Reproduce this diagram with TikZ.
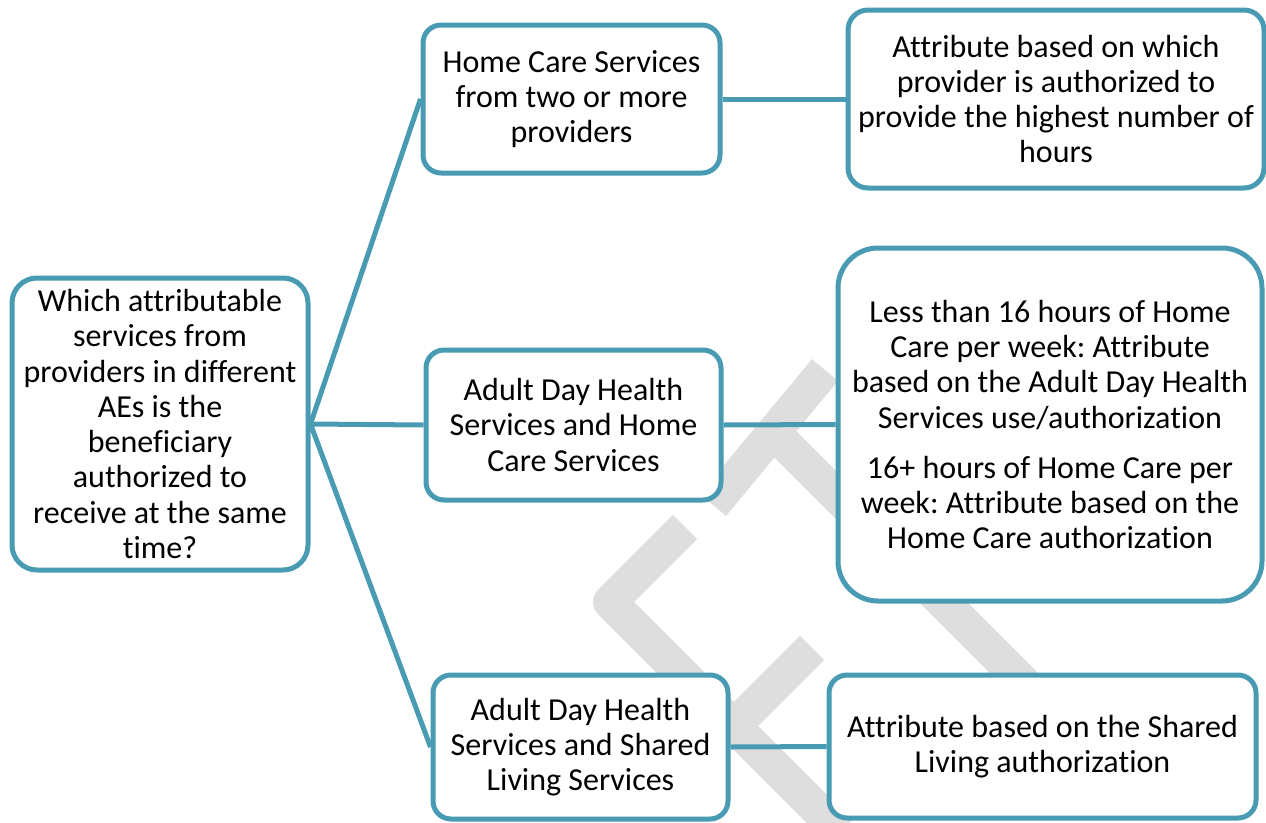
\documentclass[tikz,border=0pt]{standalone}
\usepackage{fontspec}
\setmainfont{Carlito}[Ligatures=NoCommon]
\frenchspacing
\definecolor{boxteal}{RGB}{72,155,178}
\definecolor{wmgray}{RGB}{222,222,222}
\begin{document}
\begin{tikzpicture}[x=1pt,y=-1pt,
  box/.style={draw=boxteal,line width=5pt,fill=white,align=center,inner sep=0pt,
    font=\fontsize{32}{35.3}\selectfont},
  link/.style={draw=boxteal,line width=5pt},
  wmstripe/.style={draw=wmgray,line width=34pt,line join=round}]
\useasboundingbox (0,0) rectangle (1266,822);
\begin{scope}
\clip (0,0) rectangle (1266,822);
\draw[wmstripe] (825,370) -- (713,505);
\draw[wmstripe] (773,432) -- (1045,704);
\draw[wmstripe] (685,527) -- (610,602) -- (840,832);
\draw[wmstripe] (812,648) -- (734,726);
\end{scope}
\node[box,rounded corners=25pt,minimum width=296pt,minimum height=292pt] (q) at (160,424)
  {Which attributable\\services from\\providers in different\\AEs is the\\beneficiary\\authorized to\\receive at the same\\time?};
\node[box,rounded corners=18pt,minimum width=297pt,minimum height=148pt] (m1) at (571.5,99)
  {Home Care Services\\from two or more\\providers};
\node[box,rounded corners=18pt,minimum width=295pt,minimum height=150pt] (m2) at (573.5,425)
  {Adult Day Health\\Services and Home\\Care Services};
\node[box,rounded corners=18pt,minimum width=295pt,minimum height=144pt] (m3) at (580.5,747)
  {Adult Day Health\\Services and Shared\\Living Services};
\node[box,rounded corners=20pt,minimum width=416pt,minimum height=178pt] (r1) at (1056,99)
  {Attribute based on which\\provider is authorized to\\provide the highest number of\\hours};
\node[box,rounded corners=40pt,minimum width=424pt,minimum height=353pt] (r2) at (1050,424.5)
  {Less than 16 hours of Home\\Care per week: Attribute\\based on the Adult Day Health\\Services use/authorization\\[15pt]16+ hours of Home Care per\\week: Attribute based on the\\Home Care authorization};
\node[box,rounded corners=18pt,minimum width=427pt,minimum height=143pt] (r3) at (1042.5,746.5)
  {Attribute based on the Shared\\Living authorization};
\draw[link] (q.east) -- (m1.west);
\draw[link] (q.east) -- (m2.west);
\draw[link] (q.east) -- (m3.west);
\draw[link] (m1.east) -- (r1.west);
\draw[link] (m2.east) -- (r2.west);
\draw[link] (m3.east) -- (r3.west);
\end{tikzpicture}
\end{document}
